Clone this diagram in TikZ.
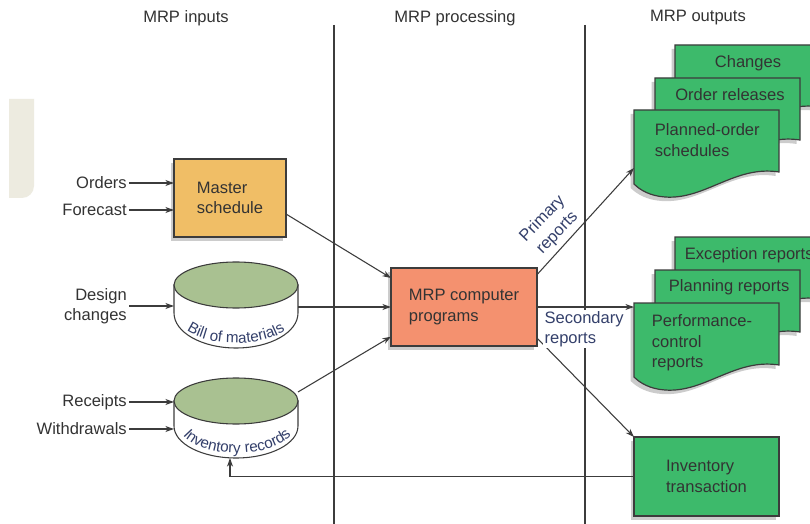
\documentclass[tikz,border=0pt]{standalone}
\usepackage{fontspec}
\setmainfont{Liberation Sans}
\usetikzlibrary{arrows.meta,shadows,decorations.text}
\definecolor{linec}{HTML}{3C3C3C}
\definecolor{txt}{HTML}{333333}
\definecolor{lab}{HTML}{34406B}
\definecolor{msc}{HTML}{F0BE66}
\definecolor{mrpc}{HTML}{F4916F}
\definecolor{grn}{HTML}{3DBA6B}
\definecolor{sage}{HTML}{A9C191}
\definecolor{beige}{HTML}{EDEBE0}
\newcommand\mainfnt{\fontsize{12.4}{15.4}\selectfont}
\newcommand\curvfnt{\fontsize{11.4}{12}\selectfont}
\newcommand\docpath[2]{({#1},{#2+74}) -- ({#1},{#2}) -- ({#1+145},{#2}) -- ({#1+145},{#2+62}) .. controls ({#1+101},{#2+55}) and ({#1+71},{#2+90}) .. ({#1+31},{#2+87}) .. controls ({#1+16},{#2+86}) and ({#1+6},{#2+80}) .. ({#1},{#2+74}) -- cycle}
\tikzset{
  every node/.style={font=\mainfnt, text=txt},
  conn/.style={draw=linec, line width=0.8pt, -{Stealth[length=6.5pt,width=4.5pt]}},
  plain/.style={draw=linec, line width=0.8pt},
  shad/.style={drop shadow={shadow xshift=-2.5pt, shadow yshift=-3pt, opacity=0.2, fill=black}},
  procbox/.style={draw=linec, line width=0.9pt, shad, inner sep=0pt, outer sep=0pt, align=left},
  docst/.style={draw=linec, line width=0.9pt, fill=grn, shad},
  ghost/.style={inner sep=0pt, outer sep=0pt},
  lbl/.style={text=lab, inner sep=1pt},
  cyltop/.style={draw=linec, line width=0.8pt, fill=sage},
  cylband/.style={draw=linec, line width=0.8pt, fill=white},
}
\begin{document}
\begin{tikzpicture}[x=0.75pt, y=-0.75pt]
\useasboundingbox (0,0) rectangle (810,524);
\clip (0,0) rectangle (810,524);
\fill[white] (0,0) rectangle (810,524);
% beige tab
\fill[beige] (9,99) -- (34,99) -- (34,186) arc[start angle=0, end angle=-90, radius=9pt] -- (9,198) -- cycle;
% dividers
\draw[plain] (334,25) -- (334,524);
\draw[plain] (585,25) -- (585,524);
% headers
\node (h1) at (186,18) {MRP inputs};
\node (h2) at (455,18) {MRP processing};
\node (h3) at (698,18) {MRP outputs};
% master schedule
\node[procbox, fill=msc, minimum width=84pt, minimum height=58.5pt] (ms) at (230,198) {Master\\schedule};
% MRP box
\node[procbox, fill=mrpc, minimum width=109.5pt, minimum height=58.5pt] (mrp) at (464,307) {MRP computer\\programs};
% inventory transaction
\node[procbox, fill=grn, minimum width=108.75pt, minimum height=59.25pt] (invtr) at (706.5,476.5) {Inventory\\transaction};
% cylinders
\draw[cylband] (174,285) -- (174,313) arc[start angle=180, end angle=360, x radius=46.5pt, y radius=26.25pt] -- (298,285) -- cycle;
\draw[cyltop] (236,285) ellipse[x radius=46.5pt, y radius=17.25pt];
\path[decorate, decoration={text along path, text={|\curvfnt|Bill of materials}, text align=center, text color=lab}] (180.9,324.5) arc[start angle=195, end angle=345, x radius=42.75pt, y radius=18.75pt];
\node[ghost, minimum width=93pt, minimum height=60pt] (bom) at (236,307) {};
\draw[cylband] (174,401) -- (174,426) arc[start angle=180, end angle=360, x radius=46.5pt, y radius=24pt] -- (298,401) -- cycle;
\draw[cyltop] (236,401) ellipse[x radius=46.5pt, y radius=17.25pt];
\path[decorate, decoration={text along path, text={|\curvfnt|Inventory records}, text align=center, text color=lab}] (179.6,428.9) arc[start angle=188, end angle=352, x radius=43.5pt, y radius=21pt];
\node[ghost, minimum width=93pt, minimum height=55.5pt] (inv) at (236,421) {};
% document stacks (top)
\draw[docst] \docpath{675}{45};
\draw[docst] \docpath{655}{78};
\draw[docst] \docpath{634}{110};
\node (chg) at (748,63) {Changes};
\node (ordrel) at (730,95) {Order releases};
\node[anchor=west, align=left, inner sep=2pt] (plan) at (652,140) {Planned-order\\schedules};
\node[ghost, anchor=north west, minimum width=108.75pt, minimum height=46.5pt] (plandoc) at (634,110) {};
% document stacks (bottom)
\draw[docst] \docpath{675}{237};
\draw[docst] \docpath{655}{270};
\draw[docst] \docpath{634}{303};
\node[anchor=west, inner sep=2pt] (exc) at (682,255) {Exception reports};
\node[anchor=west, inner sep=2pt] (planrep) at (666,287) {Planning reports};
\node[anchor=west, align=left, inner sep=2pt] (perf) at (649,343) {Performance-\\control\\reports};
\node[ghost, anchor=north west, minimum width=108.75pt, minimum height=46.5pt] (perfdoc) at (634,303) {};
% inputs
\node[anchor=east, inner sep=1.5pt] (orders) at (129,183) {Orders};
\node[anchor=east, inner sep=1.5pt] (forecast) at (129,210) {Forecast};
\node[anchor=east, align=right, inner sep=1.5pt] (design) at (129,306) {Design\\changes};
\node[anchor=east, inner sep=1.5pt] (receipts) at (129,402) {Receipts};
\node[anchor=east, inner sep=1.5pt] (withdr) at (129,429) {Withdrawals};
\draw[conn] (orders.east) -- (orders.east -| ms.west);
\draw[conn] (forecast.east) -- (forecast.east -| ms.west);
\draw[conn] (design.east) -- (design.east -| bom.west);
\draw[conn] (receipts.east) -- (receipts.east -| inv.west);
\draw[conn] (withdr.east) -- (withdr.east -| inv.west);
% to MRP
\draw[conn] ([yshift=-12pt]ms.east) -- ([yshift=-7.5pt]mrp.north west);
\draw[conn] (bom.east) -- (mrp.west);
\draw[conn] ([yshift=-6pt]inv.north east) -- ([yshift=7pt]mrp.south west);
% outputs
\draw[conn] ([yshift=-5pt]mrp.north east) -- ([yshift=-43.5pt]plandoc.north west);
\draw[conn] (mrp.east) -- ([yshift=-3pt]perfdoc.north west);
\draw[conn] ([yshift=6pt]mrp.south east) -- (invtr.north west);
\draw[conn] (invtr.west) -| ([xshift=-4.5pt]inv.south);
% labels
\node[lbl, rotate=46, align=center] (prim) at (550,226) {Primary\\reports};
\node[lbl, fill=white, anchor=west, align=left] (sec) at (543,329) {Secondary\\reports};
\end{tikzpicture}
\end{document}
